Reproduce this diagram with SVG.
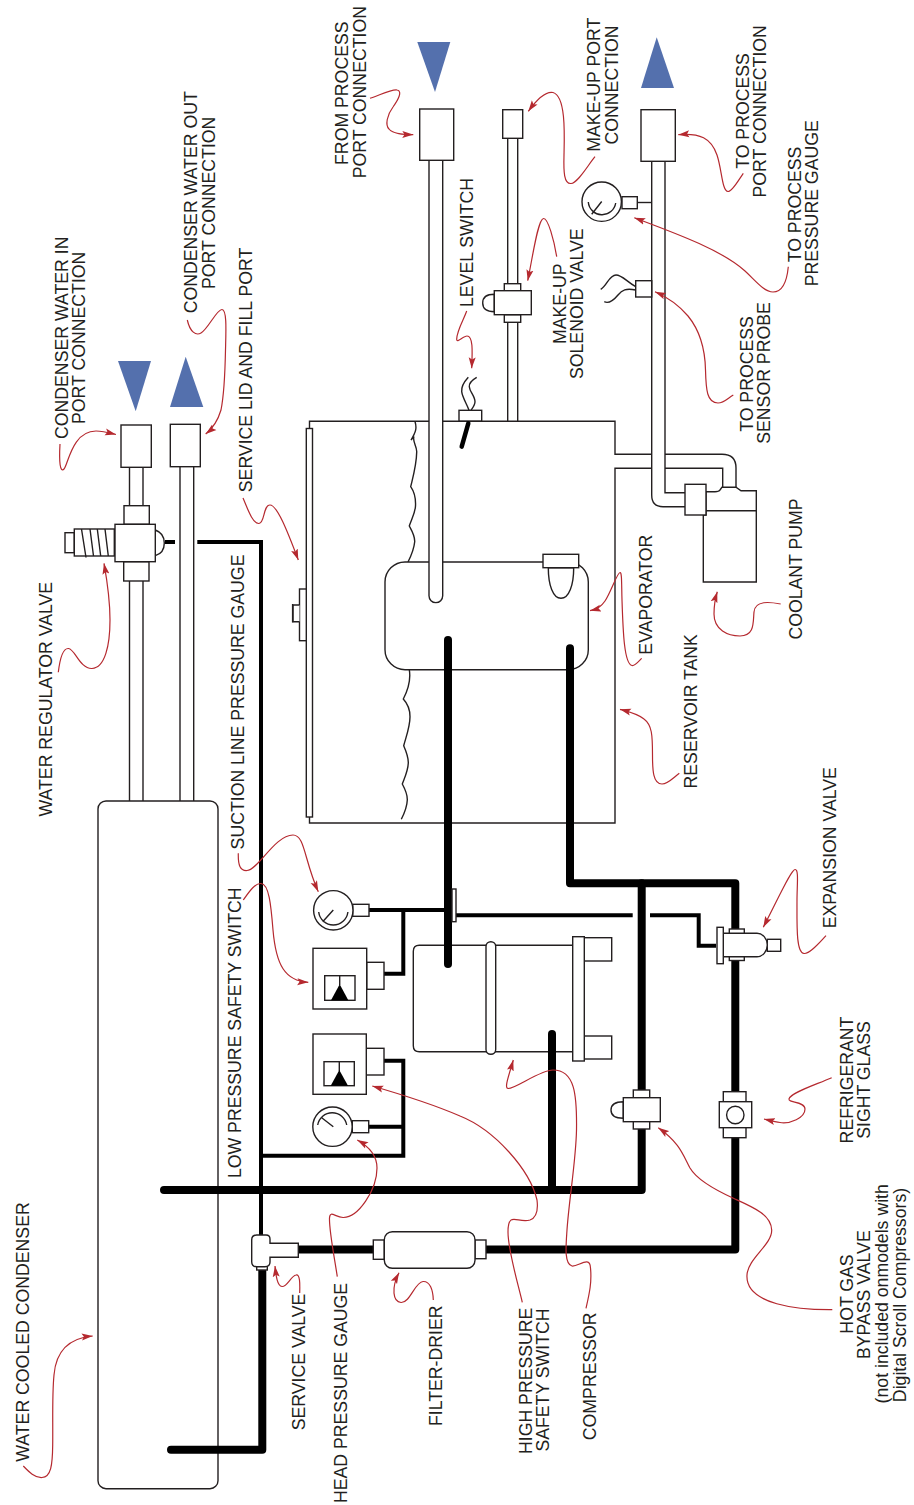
<svg xmlns="http://www.w3.org/2000/svg" width="914" height="1505" viewBox="0 0 914 1505">
<style>
.o{fill:none;stroke:#231f20;stroke-width:1.4}
.w{fill:#fff;stroke:#231f20;stroke-width:1.4}
.t1{fill:none;stroke:#000;stroke-width:4;stroke-linejoin:miter}
.t2{fill:none;stroke:#000;stroke-width:8;stroke-linecap:round;stroke-linejoin:round}
.a{fill:none;stroke:#b5292f;stroke-width:1.2;marker-end:url(#ah)}
.tri{fill:#5470ad}
.k{fill:#000}
text{font-family:"Liberation Sans",Arial,sans-serif;font-size:17.7px;fill:#231f20;text-anchor:middle}
</style>
<defs>
<marker id="ah" markerUnits="userSpaceOnUse" markerWidth="11" markerHeight="8" refX="11" refY="4" orient="auto"><path d="M0,0.5 L11,4 L0,7.5 L2.2,4 z" fill="#b5292f"/></marker>
</defs>
<rect width="914" height="1505" fill="#fff"/>

<g id="reservoir-tank">
<path class="o" d="M309.5,428 V421.3 H615 V454.3 H651.7 M665,454.3 H722 Q736,454.3 736,468 V487"/>
<path class="o" d="M651.7,468.3 H615 V823 H309.5 V817 M665,468.3 H722.7 V487"/>
<path class="o" d="M415,421.5 C417,428 416,432 411,440 L414,436.5 C412,441 417,446 416.7,452 C416.5,465 413,477 410.7,486.7 C413,490 416,496 415.5,506 C415,514 411,520 409.3,526 C412,531 415,536 414.7,541.7 C414,549 411,556 408,562"/>
<path class="o" d="M409.3,669.7 C411,680 408,690 403.3,699 C407,703 410,709 410,716.7 C410,727 406,737 403.7,745.7 C406,751 408.5,757 408.3,763 C408,771 404.5,778 402.3,784 C405,789 407.5,795 407.3,800 C407,807 404,814 401.3,819.3"/>
</g>
<g id="service-lid">
<rect class="w" x="306.3" y="428.5" width="6.2" height="388.5"/>
<rect class="w" x="299.5" y="589" width="6.8" height="51.7"/>
<path class="w" d="M299.5,605 H293 V621.7 H299.5"/>
<path class="o" d="M292.6,604 V622.4"/>
</g>
<g id="evaporator">
<rect class="w" x="385" y="562" width="203.3" height="107.7" rx="20" ry="20"/>
<path class="w" d="M548.3,567.7 C548.3,585 553,598.3 561,598.3 C569,598.3 573.7,585 573.7,567.7 Z"/>
<rect class="w" x="543" y="554.3" width="35.7" height="13.4"/>
</g>
<g id="compressor">
<path class="w" d="M572.7,945.3 H419.3 Q413.3,945.3 413.3,951.3 V1045.7 Q413.3,1051.7 419.3,1051.7 H572.7"/>
<rect class="w" x="486" y="941.7" width="9.7" height="112.6" rx="4.8"/>
<rect class="w" x="584.3" y="937.7" width="27.4" height="23.3"/>
<rect class="w" x="584.3" y="1036" width="27.4" height="23"/>
<rect class="w" x="572.7" y="936.7" width="11.6" height="124.3"/>
</g>
<g id="water-cooled-condenser"><rect class="o" x="98" y="801" width="120" height="687.7" rx="8"/></g>

<g id="connectors">
<path class="w" d="M429,160 V595.8 a6.85,6.85 0 0 0 13.7,0 V160"/>
<path class="w" d="M507.7,138 V421.3 H517.7 V138"/>
<path class="o" d="M129.5,467 V505.7 M143,467 V505.7 M129.5,581 V801 M143,581 V801 M180,466.7 V801 M193.7,466.7 V801"/>
<path class="o" d="M651.7,161 V495 Q651.7,506.7 663,506.7 H685 M665,161 V492.7 H685"/>
<path class="o" d="M637.3,202.5 H651.7"/>
<path class="t1" d="M165,542 H175 M197.3,542 H261 V1236"/>
<path class="t1" d="M263,1155.7 H403.3 V1060.7 H384 M369,1126.7 H403.3"/>
<path class="t1" d="M369,910 H444 M403.3,910 V973.7 H384"/>
<path class="t1" d="M456,915.3 H632.7 M650,915.3 H698.7 V945.7 H716"/>
<path class="t2" d="M448,640 V964"/>
<path class="t2" d="M570,648.3 V883.3 H735.3 V1249.5 H486"/>
<path class="t2" d="M641.7,883.3 V1190 H164"/>
<path class="t2" d="M552,1034 V1190"/>
<path class="t2" d="M262.3,1268 V1449.7 H171"/>
<path class="t2" d="M297,1249.5 H374" style="stroke-linecap:butt"/>
<path class="a" d="M60,444 C59,462 60,473 64,469 C68,465 72,431 96,431 C103,431 110,433 116,434.5"/>
<path class="a" d="M187.3,320 C190,332 196,336 201,333 C208,329 217,309 222,309.5 C227,310 226,330 225.5,350 C225,375 224,395 221,410 C218,420 212,429 205.7,434"/>
<path class="a" d="M370,98.3 C380,95 392,89 397,90 C403,91 398,100 393,107 C387,115 385,125 389,129 C393,134 403,134.5 413.3,134.7"/>
<path class="a" d="M595,156.7 C588,165 578,183 571,183.5 C564,184 563.5,172 564,155 C564.5,135 566,96 553,92.5 C545,91 535,102 528.3,111.3"/>
<path class="a" d="M743.3,173.3 C738,181 732,192 728,191.5 C722,191 722,170 717,155 C711,138 700,133 678.3,134.7"/>
<path class="a" d="M788.3,266.7 C787,280 783,292 773,292 C764,292 755,280 745,271 C722,250 675,233 634.3,217.7"/>
<path class="a" d="M733.3,395 C728,398 724,403 718,403 C707,403 706,390 705.5,370 C705,345 697,327 688,316 C678,304 667,297 655,291.7"/>
<path class="a" d="M556.7,256.7 C554,240 548,218 543.5,218.5 C538,219 533,255 527.7,280.7"/>
<path class="a" d="M466.7,311 C464,319 457,330 456.7,339 C456.5,344 463,336 467,336 C473,336 472.5,350 471.7,368.3"/>
<path class="a" d="M243,498 C248,510 253,524 259,523.5 C265,523 263,505 270,505 C277,505 287,530 298.3,560"/>
<path class="a" d="M58.3,672.3 C60,658 63,648 68.5,648.5 C75,649 80,669 92,668.5 C105,668 110,645 110,620 C110,600 107,580 104,563.3"/>
<path class="a" d="M641.7,658.3 C638,662 635,666 632,665.5 C624,664 623,630 622,600 C621.5,585 622,572 620,572.5 C617,573 611,592 605,601 C601,607 597,609 590,610.7"/>
<path class="a" d="M679.3,773.3 C674,777 668,784 662,784 C653,784 652.5,770 652.5,755 C652.5,735 652,725 644,719 C638,714 630,712 620,709.3"/>
<path class="a" d="M780.7,604 C770,602 755,600 754,612 C753,622 755,636 740,636 C728,636 714,630 714,614 C714,606 715,599 717.3,591.7"/>
<path class="a" d="M826,935.7 C819,943 810,954 804,953.5 C796,953 797,925 797,900 C797,885 799,869 795,869.5 C791,870 780,895 763.3,927.3"/>
<path class="a" d="M238.3,853.3 C238,865 240,871 247,870.5 C258,870 275,835 293,835 C305,835 304,860 318.3,891.7"/>
<path class="a" d="M243.3,900 C249,892 255,883 261,883.5 C269,884 271,905 273,930 C276,965 285,981 308.3,982.3"/>
<path class="a" d="M337.3,1276.7 C334,1255 329,1230 329.5,1218 C330,1210 335,1217 343,1217.5 C358,1218 377,1190 377,1168 C377,1155 368,1146 357.3,1140"/>
<path class="a" d="M299.7,1293 C300,1283 300,1274 296,1275 C291,1276 287,1287 282,1286.5 C277,1286 276,1275 275,1266"/>
<path class="a" d="M433.3,1300 C433,1290 430,1281 423,1281.5 C415,1282 410,1303 401,1302.5 C393,1302 391,1288 399,1272.7"/>
<path class="a" d="M522.3,1302.3 C517,1280 508,1250 508,1232 C508,1210 518,1224 530,1220 C538,1217 538,1208 537,1200 C530,1170 495,1130 460,1116 C430,1103 400,1094 372.3,1086"/>
<path class="a" d="M586,1308.3 C589,1295 592,1283 590.5,1268 C590,1255 578,1267 572,1266 C564,1264 566,1245 567,1230 C569,1200 576,1160 576.5,1130 C577,1095 575,1070 553,1070 C540,1070 515,1089 508,1088.5 C504,1088 509,1075 513.3,1060"/>
<path class="a" d="M831.7,1077.7 C815,1085 790,1093 789,1099 C788,1103 805,1101 805,1109 C805,1118 790,1124 780,1122.5 C775,1122 770,1120.5 764,1119"/>
<path class="a" d="M832.3,1309.7 C800,1310 745,1305 747,1275 C748,1258 772,1245 771.7,1230 C771,1215 755,1208 735,1199 C715,1190 697,1180 690,1168 C683,1155 680,1143 658.3,1127.7"/>
<path class="a" d="M23.3,1466 C29,1472 35,1478 42,1477.5 C51,1477 52.5,1465 52.7,1445 C53,1420 52,1395 54,1375 C56,1350 70,1338 92.7,1336"/>
</g>

<g id="condenser-in-port"><path class="tri" d="M118,361 H151 L135.7,411.3 Z"/><rect class="w" x="121" y="425" width="30.3" height="42.3"/></g>
<g id="condenser-out-port"><path class="tri" d="M170,407 H203.3 L185.7,356.7 Z"/><rect class="w" x="170.3" y="424.3" width="30" height="42.4"/></g>
<g id="from-process-port"><path class="tri" d="M417.3,42 H450.3 L435,92 Z"/><rect class="w" x="419.7" y="109" width="34" height="51.3"/></g>
<g id="to-process-port"><path class="tri" d="M641,88 H674 L656.7,37.3 Z"/><rect class="w" x="641" y="109.7" width="34.3" height="51.6"/></g>
<g id="make-up-port"><rect class="w" x="502.7" y="109.7" width="20" height="28.6"/></g>
<g id="make-up-solenoid-valve">
<path class="w" d="M494.3,294.3 C486,294.3 482.7,298 482.7,303 C482.7,308 486,311.7 494.3,311.7 Z"/>
<rect class="w" x="504.3" y="283.7" width="16.4" height="7"/>
<rect class="w" x="504.3" y="314.7" width="16.4" height="7.6"/>
<rect class="w" x="494.3" y="290.7" width="37" height="24"/>
</g>
<g id="process-pressure-gauge">
<rect class="w" x="622" y="196.7" width="15.3" height="12"/>
<circle class="w" cx="601.7" cy="201.7" r="19.7"/>
<path class="o" d="M588.3,202 A13.8,13.8 0 0 0 615.7,203 M601.7,201.5 L591.7,214.3"/>
</g>
<g id="process-sensor-probe">
<rect class="w" x="635.7" y="280.7" width="16" height="16.3"/>
<path class="o" d="M635.7,286.7 C626,281 622,275 616,275 C609,275 607,286 600.7,289.3"/>
<path class="o" d="M635.7,290 C626,288 622,290 618,295 C613,301 609,304 604.3,301.7"/>
</g>
<g id="level-switch">
<path class="o" d="M468.3,377.3 C464,382 461,386 461.7,391.7 C462.5,398 467,404 469,410.3"/>
<path class="o" d="M476.7,377.3 C472,380 469,383 469.3,386.7 C469.7,392 475,396 475,401.7 C475,405 472.5,408 471,410.3"/>
<rect class="w" x="459" y="410.3" width="22.7" height="10.7"/>
<path d="M468.3,423.3 L461.7,446.7" stroke="#000" stroke-width="4.5" stroke-linecap="round" fill="none"/>
</g>
<g id="coolant-pump">
<path class="w" d="M706,491.7 H715 Q719,491.7 720,490 L722,487.2 H736 L741,490.7 H756.3 V582 H703.3 V515 H706 Z"/>
<path class="o" d="M706,510.7 H756.3"/>
<rect class="w" x="685" y="484.3" width="21" height="30.7"/>
</g>
<g id="water-regulator-valve">
<path class="w" d="M155.3,530 C161,532 164.3,537 164.3,543 C164.3,549 161,554 155.3,555.7 Z"/>
<rect class="w" x="124" y="505.7" width="25.3" height="18.6"/>
<rect class="w" x="123.7" y="561.7" width="25.3" height="19.3"/>
<rect class="w" x="65" y="532.7" width="9.3" height="20"/>
<rect class="w" x="74.3" y="529" width="40" height="27"/>
<path class="o" d="M81.5,529 L86,557.5 M90,529 L93.5,556 M97.3,529 L100.7,556 M105,529 L108.3,556"/>
<rect class="w" x="115" y="524.3" width="40.3" height="37.4"/>
</g>
<g id="suction-line-pressure-gauge">
<rect class="w" x="352.7" y="904.3" width="16.3" height="12"/>
<circle class="w" cx="333.3" cy="910.3" r="19.7"/>
<path class="o" d="M318.7,912 A14.7,14.7 0 0 0 347.9,912 M333.3,910 L322.7,921.7"/>
</g>
<g id="suction-fitting"><rect class="w" x="452" y="889" width="4" height="32.7"/></g>
<g id="low-pressure-safety-switch">
<rect class="w" x="366.7" y="962.3" width="17.3" height="27"/>
<rect class="w" x="313" y="948.3" width="53.7" height="60.7"/>
<rect class="w" x="324.7" y="975.7" width="30.3" height="24.6"/>
<path class="o" d="M339.7,975.7 V985"/><path class="k" d="M339.7,984.3 L331,1000.3 H348.3 Z"/>
</g>
<g id="high-pressure-safety-switch">
<rect class="w" x="366.3" y="1048.3" width="17.7" height="26.7"/>
<rect class="w" x="313" y="1034" width="53.3" height="60.3"/>
<rect class="w" x="324" y="1061.7" width="30.3" height="24"/>
<path class="o" d="M339.3,1061.7 V1071"/><path class="k" d="M339.3,1070 L330.7,1085.7 H348 Z"/>
</g>
<g id="head-pressure-gauge">
<rect class="w" x="352.3" y="1120.7" width="16.4" height="12"/>
<circle class="w" cx="332.5" cy="1126.7" r="19.7"/>
<path class="o" d="M317.7,1125 A14.7,14.7 0 0 1 346.7,1125 M321.7,1117.7 L333.3,1126.7"/>
</g>
<g id="expansion-valve">
<rect class="w" x="729.3" y="929" width="15" height="31.5"/>
<rect class="w" x="767.3" y="939.3" width="13.4" height="12"/>
<path class="w" d="M723.3,933.3 H757 C763,933.3 767.3,939 767.3,945 C767.3,951 763,956.7 757,956.7 H723.3 Z"/>
<rect class="w" x="717" y="927.3" width="6.3" height="36.4"/>
</g>
<g id="refrigerant-sight-glass">
<rect class="w" x="723.3" y="1091.7" width="22.7" height="46"/>
<rect class="w" x="719.3" y="1101.7" width="32.4" height="26"/>
<circle class="w" cx="735.3" cy="1115" r="8.7"/>
</g>
<g id="hot-gas-bypass-valve">
<path class="w" d="M623.3,1101.7 C615,1101.7 611,1105 611,1110 C611,1115 615,1118.3 623.3,1118.3 Z"/>
<rect class="w" x="633.3" y="1090" width="16.4" height="39"/>
<rect class="w" x="623.3" y="1097.7" width="37" height="24"/>
</g>
<g id="service-valve">
<rect class="w" x="256.7" y="1264" width="10.6" height="6"/>
<path class="w" d="M256.7,1235 H266 Q270,1235 270,1239 V1243.3 H298.3 V1257.3 H270 V1262 Q270,1266.7 265,1266.7 H256.7 Q251.7,1266.7 251.7,1261.7 V1240 Q251.7,1235 256.7,1235 Z"/>
</g>
<g id="filter-drier">
<rect class="w" x="373.3" y="1240" width="11" height="19.3"/>
<rect class="w" x="475" y="1240" width="11" height="18.7"/>
<rect class="w" x="384.3" y="1231.7" width="90.7" height="36.6" rx="8"/>
</g>

<g id="labels">
<text transform="translate(67.5,337.8) rotate(-90)">CONDENSER WATER IN</text>
<text transform="translate(85,337.8) rotate(-90)">PORT CONNECTION</text>
<text transform="translate(197,202.3) rotate(-90)">CONDENSER WATER OUT</text>
<text transform="translate(214.7,202.8) rotate(-90)">PORT CONNECTION</text>
<text transform="translate(252.3,370) rotate(-90)">SERVICE LID AND FILL PORT</text>
<text transform="translate(348,93.2) rotate(-90)">FROM PROCESS</text>
<text transform="translate(366,92.2) rotate(-90)">PORT CONNECTION</text>
<text transform="translate(472.7,242.5) rotate(-90)">LEVEL SWITCH</text>
<text transform="translate(566,303.7) rotate(-90)">MAKE-UP</text>
<text transform="translate(583.3,303.7) rotate(-90)">SOLENOID VALVE</text>
<text transform="translate(600,84.7) rotate(-90)">MAKE-UP PORT</text>
<text transform="translate(617.7,85) rotate(-90)">CONNECTION</text>
<text transform="translate(748.7,111) rotate(-90)">TO PROCESS</text>
<text transform="translate(766,111.3) rotate(-90)">PORT CONNECTION</text>
<text transform="translate(800.7,204.5) rotate(-90)">TO PROCESS</text>
<text transform="translate(818,203.3) rotate(-90)">PRESSURE GAUGE</text>
<text transform="translate(752.7,374) rotate(-90)">TO PROCESS</text>
<text transform="translate(770,373) rotate(-90)">SENSOR PROBE</text>
<text transform="translate(652,594.7) rotate(-90)">EVAPORATOR</text>
<text transform="translate(697.3,711.3) rotate(-90)">RESERVOIR TANK</text>
<text transform="translate(801.7,569) rotate(-90)">COOLANT PUMP</text>
<text transform="translate(835.7,847.7) rotate(-90)">EXPANSION VALVE</text>
<text transform="translate(52.3,699.2) rotate(-90)">WATER REGULATOR VALVE</text>
<text transform="translate(244.3,702) rotate(-90)">SUCTION LINE PRESSURE GAUGE</text>
<text transform="translate(241,1032.8) rotate(-90)">LOW PRESSURE SAFETY SWITCH</text>
<text transform="translate(29,1332) rotate(-90)">WATER COOLED CONDENSER</text>
<text transform="translate(305,1362) rotate(-90)">SERVICE VALVE</text>
<text transform="translate(346.7,1393) rotate(-90)">HEAD PRESSURE GAUGE</text>
<text transform="translate(441.7,1365.8) rotate(-90)">FILTER-DRIER</text>
<text transform="translate(531.7,1380.8) rotate(-90)">HIGH PRESSURE</text>
<text transform="translate(549.3,1380) rotate(-90)">SAFETY SWITCH</text>
<text transform="translate(596,1376.3) rotate(-90)">COMPRESSOR</text>
<text transform="translate(852.7,1080) rotate(-90)">REFRIGERANT</text>
<text transform="translate(870.3,1080) rotate(-90)">SIGHT GLASS</text>
<text transform="translate(852.7,1294) rotate(-90)">HOT GAS</text>
<text transform="translate(870,1294.7) rotate(-90)">BYPASS VALVE</text>
<text transform="translate(887.7,1293.8) rotate(-90)">(not included onmodels with</text>
<text transform="translate(905.7,1295) rotate(-90)">Digital Scroll Compressors)</text>
</g>
</svg>
